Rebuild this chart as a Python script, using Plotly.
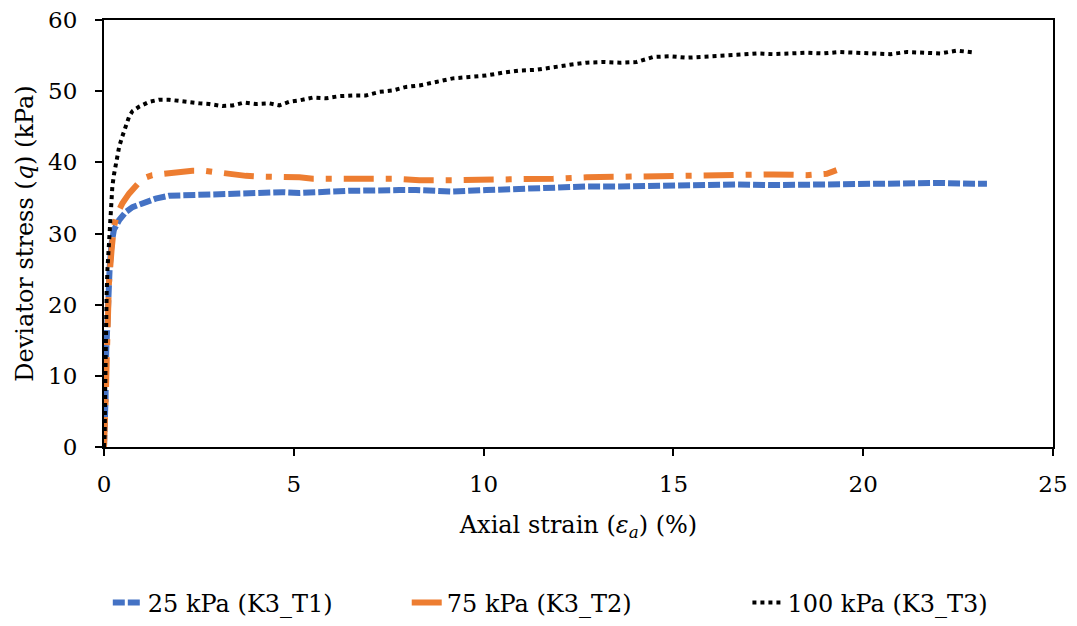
import plotly.graph_objects as go

# 25 kPa (K3_T1)
strain_t1 = [0, 0.02, 0.04, 0.06, 0.09, 0.11, 0.15, 0.20, 0.26, 0.40, 0.57, 0.75, 1.01,
             1.36, 1.71, 2.16, 2.51, 2.95, 3.39, 3.83, 4.27, 4.70, 5.15, 5.59, 6.02,
             6.46, 6.90, 7.34, 7.78, 8.22, 8.53, 9.19, 10.07, 10.95, 11.83, 12.71,
             13.59, 14.47, 15.35, 16.00, 16.67, 17.63, 18.51, 19.39, 20.27, 21.15,
             22.03, 22.90, 23.26]
stress_t1 = [0, 2.5, 6.6, 13.6, 19.2, 22.5, 25.3, 28.6, 30.5, 31.9, 33.0, 33.7, 34.2,
             34.9, 35.3, 35.4, 35.4, 35.5, 35.6, 35.7, 35.7, 35.8, 35.7, 35.9, 35.9,
             36.0, 36.1, 36.1, 36.1, 36.1, 36.0, 35.9, 36.1, 36.3, 36.5, 36.6,
             36.6, 36.7, 36.8, 36.8, 36.9, 36.8, 36.9, 37.0, 37.1, 37.1,
             37.1, 37.0, 37.0]

# 75 kPa (K3_T2)
strain_t2 = [0, 0.03, 0.05, 0.07, 0.09, 0.13, 0.20, 0.26, 0.35, 0.44, 0.48, 0.66, 0.84,
             1.01, 1.27, 1.63, 1.98, 2.33, 2.68, 3.03, 3.39, 3.74, 4.09, 4.44, 4.79,
             5.15, 5.50, 5.85, 6.20, 6.55, 6.90, 7.26, 7.61, 7.96, 8.31, 9.19, 10.07,
             10.95, 11.83, 12.71, 13.59, 14.47, 15.35, 16.23, 16.75, 17.63, 18.51,
             19.04, 19.30]
stress_t2 = [0, 3.0, 7.5, 12.0, 16.9, 23.0, 27.7, 30.9, 32.8, 34.0, 34.2, 35.6, 36.6,
             37.7, 38.2, 38.4, 38.7, 38.8, 38.8, 38.5, 38.3, 38.1, 38.0, 38.0, 37.9,
             37.9, 37.7, 37.6, 37.7, 37.7, 37.6, 37.7, 37.7, 37.6, 37.5, 37.5, 37.5,
             37.6, 37.7, 37.9, 38.0, 38.0, 38.1, 38.1, 38.2, 38.3, 38.2,
             38.4, 38.9]

# 100 kPa (K3_T3)
strain_t3 = [0, 0.02, 0.03, 0.04, 0.05, 0.07, 0.09, 0.12, 0.15, 0.18, 0.22, 0.26, 0.31,
             0.35, 0.40, 0.48, 0.57, 0.66, 0.75, 0.92, 1.19, 1.45, 1.71, 1.98, 2.24,
             2.51, 2.77, 3.12, 3.39, 3.69, 4.00, 4.35, 4.62, 4.88, 5.15, 5.50, 5.85,
             6.20, 6.55, 6.90, 7.26, 7.61, 7.96, 8.31, 8.75, 9.19, 9.63, 10.07, 10.51,
             10.95, 11.39, 11.83, 12.27, 12.71, 13.15, 13.59, 14.03, 14.47, 14.91,
             15.35, 15.79, 16.23, 16.67, 17.20, 17.63, 18.07, 18.51, 18.95, 19.39,
             19.83, 20.27, 20.71, 21.15, 21.59, 22.03, 22.47, 22.96]
stress_t3 = [0, 1.9, 7.6, 13.2, 18.8, 21.6, 24.9, 27.7, 30.5, 33.0, 36.6, 38.2, 39.8,
             40.8, 42.2, 43.6, 45.2, 46.4, 47.2, 47.8, 48.5, 48.8, 48.8, 48.6, 48.5,
             48.3, 48.2, 47.9, 48.0, 48.4, 48.2, 48.3, 48.0, 48.5, 48.7, 49.1, 49.0,
             49.3, 49.4, 49.4, 49.9, 50.1, 50.6, 50.8, 51.3, 51.8, 52.0, 52.2, 52.6,
             52.9, 53.0, 53.4, 53.7, 54.0, 54.1, 54.0, 54.1, 54.8, 54.9,
             54.7, 54.8, 54.9, 55.1, 55.3, 55.2, 55.3, 55.4, 55.3, 55.5,
             55.4, 55.3, 55.2, 55.5, 55.4, 55.3, 55.7, 55.4]

FONT = "DejaVu Serif"

fig = go.Figure()
fig.add_trace(go.Scatter(x=strain_t1, y=stress_t1, mode="lines", name="25 kPa (K3_T1)",
                         legend="legend",
                         line=dict(color="#4472C4", width=6, dash="12px,3px")))
fig.add_trace(go.Scatter(x=strain_t2, y=stress_t2, mode="lines", name="75 kPa (K3_T2)",
                         legend="legend2",
                         line=dict(color="#ED7D31", width=6, dash="longdashdot")))
fig.add_trace(go.Scatter(x=strain_t3, y=stress_t3, mode="lines", name="100 kPa (K3_T3)",
                         legend="legend3",
                         line=dict(color="black", width=4, dash="dot")))

axis_style = dict(showline=True, linecolor="black", linewidth=2, mirror=True,
                  ticks="outside", ticklen=7, tickwidth=2, tickcolor="black",
                  showgrid=False, zeroline=False, automargin=False,
                  ticklabeloverflow="allow",
                  tickfont=dict(family=FONT, size=23, color="black"))

leg = dict(orientation="h", y=-0.365, yanchor="middle", xanchor="left",
           bgcolor="rgba(0,0,0,0)",
           font=dict(family=FONT, size=24, color="black"))

fig.update_layout(
    width=1077, height=626,
    margin=dict(l=96, r=32, t=12, b=187, autoexpand=False),
    plot_bgcolor="white", paper_bgcolor="white",
    font=dict(family=FONT, size=24, color="black"),
    xaxis=dict(range=[0, 25], dtick=5, ticklabelstandoff=8,
               title=dict(text="Axial strain (<i>ε</i><sub><i>a</i></sub>) (%)",
                          font=dict(family=FONT, size=24, color="black"), standoff=21),
               **axis_style),
    yaxis=dict(range=[0, 60], dtick=10, ticklabelstandoff=13,
               title=dict(text="Deviator stress (<i>q</i>) (kPa)",
                         font=dict(family=FONT, size=24, color="black"), standoff=8),
               **axis_style),
    legend=dict(x=0.004, **leg),
    legend2=dict(x=0.319, **leg),
    legend3=dict(x=0.678, **leg),
    showlegend=True,
)

fig.write_html("out.html")
